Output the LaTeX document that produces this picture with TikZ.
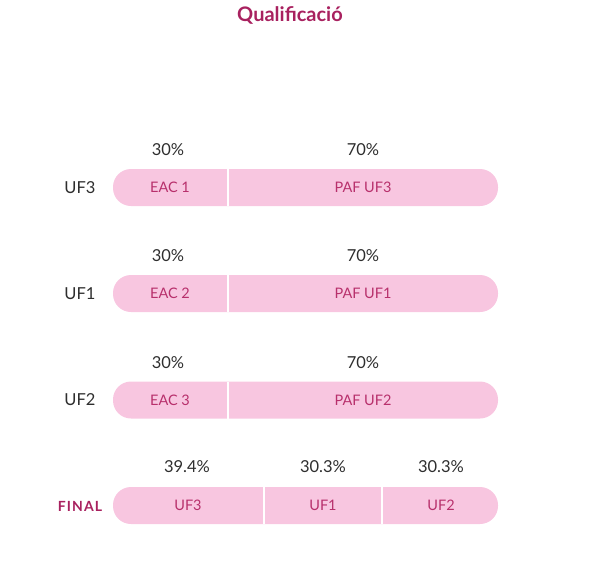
\documentclass[tikz,border=0pt]{standalone}
\usepackage{fontspec}
\setmainfont{Lato}
\definecolor{qmagenta}{HTML}{A8215F}
\definecolor{qpink}{HTML}{F8C6E0}
\definecolor{qbartext}{HTML}{B8306C}
\definecolor{qtext}{HTML}{2E2E2E}
\tikzset{
	bar/.style={fill=qpink, rounded corners=18pt},
	gap/.style={draw=white, line width=2pt},
	bartext/.style={text=qbartext, font=\fontsize{14.5}{16}\selectfont},
	pct/.style={text=qtext, font=\fontsize{16.5}{18}\selectfont},
	rowlabel/.style={text=qtext, font=\fontsize{16.5}{18}\selectfont}
}
\begin{document}
\begin{tikzpicture}[x=1pt,y=-1pt]
	\useasboundingbox (0,0) rectangle (593,560);
	\node[text=qmagenta, font=\fontsize{20}{24}\selectfont\bfseries] (title) at (290,15) {Qualificació};
	% one bar per UF
	\foreach \y/\u/\e in {187.5/UF3/1, 293.5/UF1/2, 400/UF2/3} {
		\fill[bar] (113,\y-18.5) rectangle (498,\y+18.5);
		\draw[gap] (228,\y-18.5) -- (228,\y+18.5);
		\node[rowlabel] (lab\u) at (80,\y) {\u};
		\node[bartext] (eac\e) at (170,\y) {EAC \e};
		\node[bartext] (paf\u) at (363,\y) {PAF \u};
		\node[pct] (pa\u) at (168,\y-37.5) {30\%};
		\node[pct] (pb\u) at (363,\y-37.5) {70\%};
	}
	% final mark
	\fill[bar] (113,487) rectangle (498,524);
	\draw[gap] (264,487) -- (264,524);
	\draw[gap] (382,487) -- (382,524);
	\node[text=qmagenta, font=\fontsize{14}{16}\selectfont\bfseries\addfontfeatures{LetterSpace=8}] (final) at (80,506) {FINAL};
	\node[bartext] (fuf3) at (188,505.5) {UF3};
	\node[bartext] (fuf1) at (323,505.5) {UF1};
	\node[bartext] (fuf2) at (441,505.5) {UF2};
	\node[pct] (f3) at (187,467) {39.4\%};
	\node[pct] (f1) at (323,467) {30.3\%};
	\node[pct] (f2) at (441,467) {30.3\%};
\end{tikzpicture}
\end{document}
